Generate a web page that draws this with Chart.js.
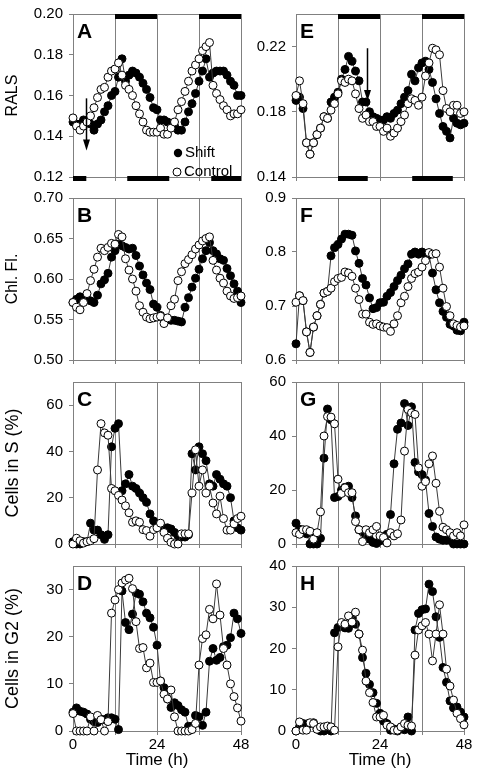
<!DOCTYPE html>
<html><head><meta charset="utf-8">
<script src="https://cdn.jsdelivr.net/npm/chart.js@4.4.1/dist/chart.umd.min.js"></script>
<style>
html,body{margin:0;padding:0;background:#fff;}
body{width:477px;height:773px;position:relative;overflow:hidden;}
canvas{position:absolute;}
</style></head><body>
<script>
// ---------- data ----------
const hours = [0,1,2,3,4,5,6,7,8,9,10,11,12,13,14,15,16,17,18,19,20,21,22,23,24,25,26,27,28,29,30,31,32,33,34,35,36,37,38,39,40,41,42,43,44,45,46,47,48];
const timeTicks = [0,12,24,36,48];
const timeLabels = [0,24,48];
const seriesNames = ['Shift','Control'];

const shiftA = [0.147,0.146,0.146,0.148,0.147,0.146,0.143,0.146,0.148,0.152,0.155,0.160,0.162,0.169,0.178,0.167,0.170,0.172,0.171,0.169,0.166,0.163,0.159,0.154,0.153,0.148,0.148,0.147,0.146,0.145,0.143,0.143,0.147,0.152,0.156,0.161,0.167,0.172,0.178,0.169,0.171,0.172,0.172,0.172,0.170,0.167,0.165,0.160,0.160];
const controlA = [0.149,0.145,0.143,0.145,0.147,0.150,0.154,0.159,0.163,0.164,0.169,0.172,0.173,0.176,0.170,0.165,0.163,0.160,0.155,0.151,0.147,0.143,0.142,0.142,0.142,0.144,0.141,0.141,0.144,0.147,0.153,0.157,0.162,0.167,0.172,0.175,0.178,0.182,0.184,0.186,0.165,0.161,0.158,0.155,0.153,0.150,0.151,0.151,0.153];

const shiftB = [0.571,0.575,0.578,0.575,0.575,0.573,0.571,0.580,0.594,0.599,0.607,0.627,0.635,0.643,0.641,0.639,0.637,0.638,0.629,0.616,0.605,0.595,0.587,0.569,0.565,0.555,0.549,0.550,0.549,0.549,0.548,0.547,0.565,0.577,0.590,0.601,0.612,0.625,0.635,0.645,0.635,0.631,0.625,0.623,0.613,0.604,0.594,0.585,0.571];
const controlB = [0.571,0.565,0.562,0.571,0.582,0.598,0.612,0.627,0.638,0.635,0.639,0.644,0.643,0.655,0.652,0.625,0.611,0.600,0.585,0.567,0.559,0.553,0.551,0.552,0.553,0.554,0.545,0.552,0.567,0.575,0.598,0.609,0.619,0.624,0.630,0.637,0.642,0.647,0.650,0.652,0.623,0.611,0.601,0.595,0.585,0.579,0.576,0.577,0.579];

const shiftC = [1,0,0,1,1,9,6,6,4,2,4,42,50,52,23,26,30,25,24,22,20,18,13,10,8,7.5,7,7,6.5,5,3.5,3,3,4,39,32,42,39,36,26,25,30,28,26,25,20,10,7,6];
const controlC = [0,2.5,1.4,0.4,1,1.4,2.3,32,52,48,47,24,23,21,19,16.5,13.5,9.4,10,9.4,6.2,5.8,3.4,6.2,7,9,5,2.5,0.7,0,0,4.4,4.4,4.4,22,40.7,25,32,22,25,17.7,13,20.7,11,6,6,8.7,11,12];

const shiftD = [4,4.9,4.2,4,3.6,2.5,2,1.8,2.5,2.4,2.8,2.8,2.5,0.3,29.7,23,21.5,24.8,29.3,29,27.4,25,24,22,18.2,10.6,9.2,6.8,5,6,5.4,4.5,4,1,1,3.3,3,1.2,4,14.8,17.5,15,15.6,17.9,18.2,19.8,25,23.8,20.7];
const controlD = [3.7,0,0,0,0,3,0,3.3,2.4,0,2,25,27.8,30,31.4,32,32.4,30.2,23.2,17.5,17.7,13.4,14.4,10.3,10.3,10.6,7.8,6.8,8.7,3,0,0,0,0,0.3,1.6,14,19.6,20.4,25.8,23.8,31.2,24.6,17.5,14,10,7.3,4.9,2.1];

const shiftE = [0.187,0.189,0.182,0.161,0.154,0.161,0.166,0.170,0.177,0.176,0.186,0.189,0.192,0.200,0.206,0.214,0.211,0.205,0.199,0.186,0.186,0.180,0.177,0.176,0.175,0.175,0.177,0.176,0.179,0.181,0.185,0.189,0.193,0.203,0.199,0.207,0.210,0.211,0.206,0.198,0.188,0.179,0.171,0.168,0.164,0.176,0.173,0.172,0.173];
const controlE = [0.190,0.199,0.185,0.161,0.154,0.161,0.166,0.170,0.177,0.176,0.181,0.185,0.191,0.199,0.198,0.200,0.199,0.191,0.182,0.176,0.178,0.174,0.174,0.171,0.171,0.168,0.170,0.165,0.167,0.170,0.174,0.178,0.185,0.188,0.187,0.184,0.189,0.202,0.210,0.219,0.218,0.215,0.193,0.182,0.180,0.184,0.184,0.179,0.180];

const shiftF = [0.630,0.719,0.710,0.652,0.614,0.661,0.682,0.703,0.724,0.727,0.793,0.808,0.814,0.824,0.833,0.833,0.831,0.802,0.779,0.751,0.739,0.715,0.695,0.697,0.706,0.707,0.718,0.725,0.736,0.747,0.757,0.769,0.778,0.796,0.800,0.796,0.800,0.797,0.795,0.761,0.730,0.706,0.690,0.679,0.666,0.663,0.655,0.654,0.670];
const controlF = [0.707,0.719,0.710,0.652,0.614,0.661,0.682,0.703,0.724,0.727,0.733,0.745,0.751,0.753,0.763,0.761,0.755,0.733,0.712,0.685,0.685,0.670,0.666,0.667,0.663,0.661,0.660,0.653,0.667,0.682,0.706,0.718,0.736,0.751,0.760,0.763,0.772,0.784,0.799,0.796,0.797,0.772,0.733,0.699,0.682,0.667,0.664,0.661,0.663];

const shiftG = [7.7,5.5,4.8,3.8,0,0,0,2.1,31.8,50,46,17.2,17.6,20,21,21.4,17.2,10.4,5.3,4.5,3,1.8,0.6,0.2,1.2,2.4,3.6,10.9,29.7,42.5,44.8,52,43.9,50.8,30.2,26.7,25.7,23.7,11.3,6.5,2.6,1.8,1.4,1.4,1.4,0,0,0,0];
const controlG = [4.2,3.6,5.3,5.3,4.7,1.8,4.2,11.9,40,47.2,47,44.5,24,18.7,20.8,19,19,8.3,5.3,0.9,5.3,4.2,5.3,6.5,3,2.4,0.4,4.2,3,3.8,8.9,34.4,49.8,48.6,48,28.2,21.4,23.1,29.7,32.6,22.5,12.1,6.2,5.3,4.2,3,4.2,3,7.1];

const shiftH = [0,1,1.8,1.7,1.8,2,0.5,0,0,0.5,0,23.8,25.1,25.5,25,24.9,27.5,25.9,23.5,17.8,14,11.3,9.3,6.7,4.3,2.4,1.8,0.2,0.5,0,0.5,0.3,3.4,0,24.5,28.5,29.4,29.6,35.6,33.8,27.7,22.7,15.4,11.8,7.3,5.6,5.8,4.6,3.4];
const controlH = [0,2.2,0.2,0.2,2,1.8,0.4,1,1,1.2,1,0.2,20.4,26.3,25.9,27.9,26.4,28.8,23.5,19.6,12.1,9.3,6.9,3.4,3.4,3.8,1.4,1,0.2,0.2,1,1.8,1.4,1.2,18.4,24.5,25.5,26.3,23.5,17,23.5,30.6,23.5,15,10.9,7.5,4.3,3,1.5];

const ticksA = [0.12,0.14,0.16,0.18,0.20];
const ticksB = [0.50,0.55,0.60,0.65,0.70];
const ticksC = [0,20,40,60];
const ticksD = [0,10,20,30];
const ticksE = [0.14,0.18,0.22];
const ticksF = [0.6,0.7,0.8,0.9];
const ticksG = [0,20,40,60];
const ticksH = [0,10,20,30,40];

// dark periods (h)
const darkTopA = [[12,24],[36,48]];
const darkBottomA = [[0,3.8],[15.5,27.5],[39.5,48]];
const darkTopE = [[12,24],[36,48]];
const darkBottomE = [[12,20.5],[33.2,44.8]];
const arrowA = {x:3.8, from:0.1586, to:0.133};
const arrowE = {x:20.3, from:0.219, to:0.1866};

// ---------- panels ----------
const panels = [
  {id:'A',col:0,row:0,shift:shiftA,control:controlA,min:0.12,max:0.20,ticks:ticksA,dec:2,title:'RALS',ts:16,top:darkTopA,bottom:darkBottomA,arrow:arrowA,legend:true},
  {id:'B',col:0,row:1,shift:shiftB,control:controlB,min:0.50,max:0.70,ticks:ticksB,dec:2,title:'Chl. Fl.',ts:16},
  {id:'C',col:0,row:2,shift:shiftC,control:controlC,min:0,max:70,ticks:ticksC,dec:0,title:'Cells in S (%)',ts:18},
  {id:'D',col:0,row:3,shift:shiftD,control:controlD,min:0,max:35,ticks:ticksD,dec:0,title:'Cells in G2 (%)',ts:18},
  {id:'E',col:1,row:0,shift:shiftE,control:controlE,min:0.14,max:0.24,ticks:ticksE,dec:2,top:darkTopE,bottom:darkBottomE,arrow:arrowE},
  {id:'F',col:1,row:1,shift:shiftF,control:controlF,min:0.6,max:0.9,ticks:ticksF,dec:1},
  {id:'G',col:1,row:2,shift:shiftG,control:controlG,min:0,max:60,ticks:ticksG,dec:0},
  {id:'H',col:1,row:3,shift:shiftH,control:controlH,min:0,max:40,ticks:ticksH,dec:0}
];

const FONT = '"Liberation Sans", Arial, Helvetica, sans-serif';
Chart.defaults.font.family = FONT;
Chart.defaults.color = '#000';
const GRAY = '#808080';

const deco = {
  id:'deco',
  afterDraw(chart, args, o){
    const {ctx, chartArea:a, scales:{x,y}} = chart;
    ctx.save();
    ctx.strokeStyle = GRAY; ctx.lineWidth = 1;
    ctx.beginPath(); ctx.moveTo(a.left, Math.round(a.top)+0.5); ctx.lineTo(a.right, Math.round(a.top)+0.5); ctx.stroke();
    ctx.fillStyle = '#000';
    (o.top||[]).forEach(([s,e])=>{
      const x1=x.getPixelForValue(s), x2=x.getPixelForValue(e);
      ctx.fillRect(x1, a.top, x2-x1, 5);
    });
    (o.bottom||[]).forEach(([s,e])=>{
      const x1=x.getPixelForValue(s), x2=x.getPixelForValue(e);
      ctx.fillRect(x1, a.bottom-1, x2-x1, 5);
    });
    if (o.arrow){
      const px = Math.round(x.getPixelForValue(o.arrow.x))+0.5;
      const y1 = y.getPixelForValue(o.arrow.from), y2 = y.getPixelForValue(o.arrow.to);
      ctx.strokeStyle='#000'; ctx.lineWidth=1.5;
      ctx.beginPath(); ctx.moveTo(px,y1); ctx.lineTo(px,y2-8); ctx.stroke();
      ctx.beginPath(); ctx.moveTo(px-3.5,y2-11); ctx.lineTo(px+3.5,y2-11); ctx.lineTo(px,y2); ctx.closePath(); ctx.fill();
    }
    if (o.letter){
      ctx.font = 'bold 21px '+FONT; ctx.textAlign='left'; ctx.textBaseline='alphabetic';
      ctx.fillStyle='#000';
      ctx.fillText(o.letter, a.left+4, a.top+24);
    }
    if (o.legend){
      const lx = a.left+105, ly = a.top+139;
      ctx.fillStyle='#000';
      ctx.beginPath(); ctx.arc(lx, ly, 4.2, 0, Math.PI*2); ctx.fill();
      ctx.beginPath(); ctx.arc(lx-1, ly+19, 4, 0, Math.PI*2);
      ctx.fillStyle='#fff'; ctx.fill(); ctx.strokeStyle='#000'; ctx.lineWidth=1; ctx.stroke();
      ctx.fillStyle='#000'; ctx.font='15px '+FONT; ctx.textAlign='left'; ctx.textBaseline='middle';
      ctx.fillText(chart.data.datasets[1].label, lx+7, ly);
      ctx.fillText(chart.data.datasets[0].label, lx+6, ly+19);
    }
    ctx.restore();
  }
};

const cols = [{left:0,yw:73},{left:250,yw:46}];
const plotW = 168, padR = 12, padT = 12;
const rowTop = [11,195,379,563], rowH = [169,168,168,168], xh = [12,12,12,42];

panels.forEach(p=>{
  const col = cols[p.col];
  const w = col.yw + plotW + padR, h = padT + rowH[p.row] + xh[p.row];
  const cv = document.createElement('canvas');
  cv.width = w; cv.height = h;
  cv.style.left = col.left+'px'; cv.style.top = (rowTop[p.row]-padT)+'px';
  cv.style.width = w+'px'; cv.style.height = h+'px';
  document.body.appendChild(cv);
  const isBottom = p.row === 3;
  const lineCol = '#3a3a3a';
  new Chart(cv, {
    type:'line',
    data:{datasets:[
      {label:seriesNames[1], data:hours.map((t,i)=>({x:t,y:p.control[i]})), borderColor:lineCol, borderWidth:1,
       pointRadius:4, pointBackgroundColor:'#fff', pointBorderColor:'#000', pointBorderWidth:1, clip:false, tension:0},
      {label:seriesNames[0], data:hours.map((t,i)=>({x:t,y:p.shift[i]})), borderColor:lineCol, borderWidth:1,
       pointRadius:4, pointBackgroundColor:'#000', pointBorderColor:'#000', pointBorderWidth:1, clip:false, tension:0}
    ]},
    options:{
      responsive:false, animation:false, devicePixelRatio:1,
      layout:{padding:{top:padT,right:padR,left:0,bottom:0}},
      plugins:{legend:{display:false}, tooltip:{enabled:false},
        deco:{letter:p.id, top:p.top, bottom:p.bottom, arrow:p.arrow, legend:p.legend}},
      scales:{
        x:{type:'linear', min:0, max:48,
          afterBuildTicks:s=>{ s.ticks = timeTicks.map(v=>({value:v})); },
          afterFit:s=>{ s.height = xh[p.row]; },
          ticks:{autoSkip:false, maxRotation:0, padding:1, font:{size:15},
            callback:v=> (isBottom && timeLabels.includes(v)) ? String(v) : ''},
          grid:{color:GRAY, lineWidth:1, drawOnChartArea:true, drawTicks:true, tickLength:4},
          border:{color:GRAY, width:1},
          title:{display:isBottom, text:'Time (h)', font:{size:17}, padding:{top:0,bottom:2}}
        },
        y:{min:p.min, max:p.max,
          afterBuildTicks:s=>{ s.ticks = p.ticks.map(v=>({value:v})); },
          afterFit:s=>{ s.width = col.yw; },
          ticks:{padding:6, font:{size:15}, callback:v=>Number(v).toFixed(p.dec)},
          grid:{color:GRAY, drawOnChartArea:false, drawTicks:true, tickLength:4},
          border:{color:GRAY, width:1},
          title:{display:!!p.title, text:p.title||'', font:{size:p.ts||15}, padding:{top:p.ts===18?2:3, bottom:0}}
        }
      }
    },
    plugins:[deco]
  });
});
</script>
</body></html>
